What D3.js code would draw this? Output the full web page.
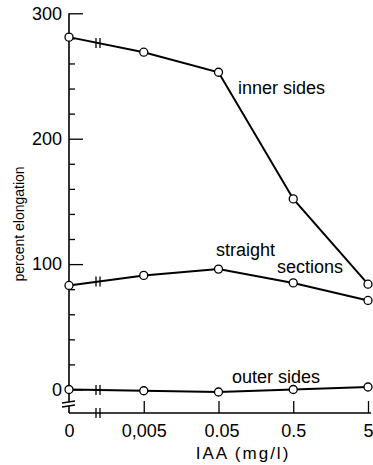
<!DOCTYPE html>
<html>
<head>
<meta charset="utf-8">
<script src="https://cdn.jsdelivr.net/npm/d3@7"></script>
<style>
  body { margin: 0; background: #fff; }
  svg { display: block; font-family: "Liberation Sans", Arial, sans-serif; }
</style>
</head>
<body>
<script>
const width = 373;
const height = 465;

// data
const categories = ['0', '0,005', '0.05', '0.5', '5'];
const innerSides = [281, 269, 253, 152, 84];
const straightSections = [83, 91, 96, 85, 71];
const outerSides = [0, -1, -2, 0, 2];
const yMajorTicks = [0, 100, 200, 300];
const yMinorTicks = [20, 40, 60, 80, 120, 140, 160, 180, 220, 240, 260, 280];

const svg = d3.select('body')
  .append('svg')
  .attr('width', width)
  .attr('height', height)

const x = d3.scalePoint()
  .domain(categories)
  .range([69, 368])

const y = d3.scaleLinear()
  .domain([0, 300])
  .range([389.5, 13.3])

const axisY = 413;   // x axis sits below a break
const breakX = 98;   // break marks between 0 and 0,005

// y axis: major ticks inward, labels outside
const yAxis = svg.append('g')
  .attr('transform', `translate(${x('0')},0)`)
  .call(d3.axisLeft(y).tickValues(yMajorTicks).tickSize(-14).tickPadding(7).tickSizeOuter(0))
yAxis.select('.domain').remove()
yAxis.selectAll('line').attr('stroke-width', 1.3)
yAxis.selectAll('text').attr('font-size', 18).attr('fill', '#000')

const yMinor = svg.append('g')
  .attr('transform', `translate(${x('0')},0)`)
  .call(d3.axisLeft(y).tickValues(yMinorTicks).tickSize(-6).tickFormat(''))
yMinor.select('.domain').remove()
yMinor.selectAll('line').attr('stroke-width', 1.3)

// y axis line with a break below zero
svg.append('line')
  .attr('x1', x('0')).attr('x2', x('0'))
  .attr('y1', y(300)).attr('y2', y(-10))
  .attr('stroke', '#000').attr('stroke-width', 1.6)
svg.append('line')
  .attr('x1', x('0')).attr('x2', x('0'))
  .attr('y1', y(-13.2)).attr('y2', axisY)
  .attr('stroke', '#000').attr('stroke-width', 1.6)
svg.selectAll('.ybreak')
  .data([y(-10), y(-13.2)])
  .enter()
  .append('line')
  .attr('x1', x('0') - 7).attr('x2', x('0') + 6)
  .attr('y1', d => d + 1).attr('y2', d => d - 1)
  .attr('stroke', '#000').attr('stroke-width', 1.4)

// x axis: ticks pointing up
const xAxis = svg.append('g')
  .attr('transform', `translate(0,${axisY})`)
  .call(d3.axisBottom(x).tickSize(-12).tickPadding(11).tickSizeOuter(0))
xAxis.select('.domain').remove()
xAxis.selectAll('.tick line').attr('stroke-width', 1.3)
  .filter(d => d === '0').remove()
xAxis.selectAll('text').attr('font-size', 18).attr('fill', '#000')
xAxis.selectAll('.tick text').filter(d => d === '0.05').attr('dx', 3)

svg.append('line')
  .attr('x1', x('0')).attr('x2', x('5') + 3)
  .attr('y1', axisY).attr('y2', axisY)
  .attr('stroke', '#000').attr('stroke-width', 1.6)

// series
const series = [
  { name: 'inner', values: innerSides },
  { name: 'straight', values: straightSections },
  { name: 'outer', values: outerSides }
];

const line = d3.line()
  .x((d, i) => x(categories[i]))
  .y(d => y(d))

series.forEach(s => {
  svg.append('path')
    .datum(s.values)
    .attr('d', line)
    .attr('fill', 'none')
    .attr('stroke', '#000')
    .attr('stroke-width', 2)
})

// break marks on each series line and on the x axis
const breakYs = series.map(s => {
  const t = (breakX - x('0')) / (x('0,005') - x('0'));
  return y(s.values[0] + t * (s.values[1] - s.values[0]));
});
breakYs.push(axisY);
breakYs.forEach(by => {
  [-2, 2].forEach(dx => {
    svg.append('line')
      .attr('x1', breakX + dx).attr('x2', breakX + dx)
      .attr('y1', by - 5).attr('y2', by + 5)
      .attr('stroke', '#000').attr('stroke-width', 1.3)
  })
})

series.forEach(s => {
  svg.selectAll('.pt-' + s.name)
    .data(s.values)
    .enter()
    .append('circle')
    .attr('cx', (d, i) => x(categories[i]))
    .attr('cy', d => y(d))
    .attr('r', 4)
    .attr('fill', '#fff')
    .attr('stroke', '#000')
    .attr('stroke-width', 1.3)
})

// series labels
const labels = [
  { text: 'inner sides', x: 238, y: 94 },
  { text: 'straight', x: 216, y: 256 },
  { text: 'sections', x: 277, y: 273 },
  { text: 'outer sides', x: 232, y: 383 }
];
svg.selectAll('.lab')
  .data(labels)
  .enter()
  .append('text')
  .attr('x', d => d.x)
  .attr('y', d => d.y)
  .attr('font-size', 18)
  .text(d => d.text)

// axis titles
svg.append('text')
  .text('IAA (mg/l)')
  .attr('x', 243)
  .attr('y', 459)
  .attr('text-anchor', 'middle')
  .attr('font-size', 17)
  .attr('letter-spacing', 2)

svg.append('text')
  .text('percent elongation')
  .attr('transform', 'rotate(-90)')
  .attr('x', -224)
  .attr('y', 24)
  .attr('text-anchor', 'middle')
  .attr('font-size', 14)
</script>
</body>
</html>
